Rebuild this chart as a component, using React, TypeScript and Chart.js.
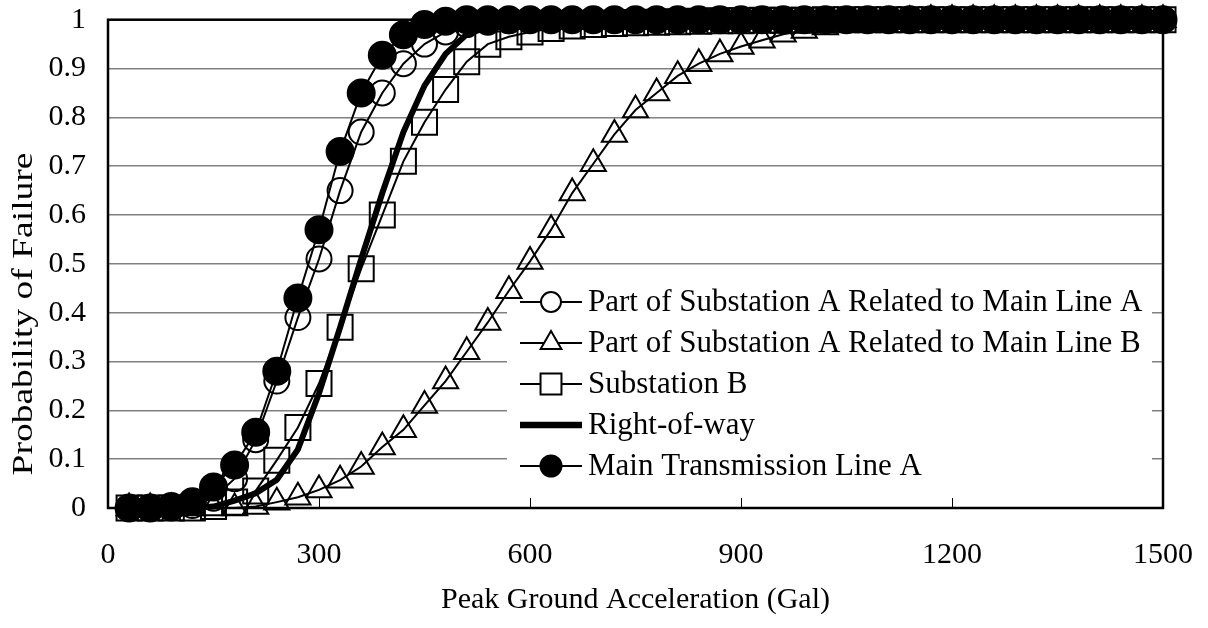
import React, { useEffect, useRef } from 'react';
import { Chart, registerables } from 'chart.js';

Chart.register(...registerables);

const PGA = [
  30, 60, 90, 120, 150, 180, 210, 240, 270, 300,
  330, 360, 390, 420, 450, 480, 510, 540, 570, 600,
  630, 660, 690, 720, 750, 780, 810, 840, 870, 900,
  930, 960, 990, 1020, 1050, 1080, 1110, 1140, 1170, 1200,
  1230, 1260, 1290, 1320, 1350, 1380, 1410, 1440, 1470, 1500,
];

const PART_A_LINE_A = [
  0, 0, 0, 0.005, 0.02, 0.06, 0.14, 0.26, 0.39, 0.51,
  0.65, 0.77, 0.85, 0.91, 0.95, 0.975, 0.99, 0.995, 0.998, 1,
  1, 1, 1, 1, 1, 1, 1, 1, 1, 1,
  1, 1, 1, 1, 1, 1, 1, 1, 1, 1,
  1, 1, 1, 1, 1, 1, 1, 1, 1, 1,
];

const PART_A_LINE_B = [
  0, 0, 0, 0, 0, 0, 0.003, 0.012, 0.022, 0.037,
  0.057, 0.085, 0.125, 0.16, 0.21, 0.26, 0.32, 0.38, 0.445, 0.505,
  0.57, 0.645, 0.705, 0.765, 0.815, 0.85, 0.885, 0.91, 0.93, 0.945,
  0.958, 0.97, 0.978, 0.985, 0.99, 0.993, 0.996, 0.998, 1, 1,
  1, 1, 1, 1, 1, 1, 1, 1, 1, 1,
];

const SUBSTATION_B = [
  0, 0, 0, 0, 0.003, 0.012, 0.035, 0.098, 0.165, 0.255,
  0.37, 0.49, 0.6, 0.71, 0.79, 0.857, 0.914, 0.95, 0.965, 0.975,
  0.982, 0.987, 0.99, 0.992, 0.994, 0.995, 0.996, 0.997, 0.998, 0.998,
  0.999, 0.999, 0.999, 1, 1, 1, 1, 1, 1, 1,
  1, 1, 1, 1, 1, 1, 1, 1, 1, 1,
];

const RIGHT_OF_WAY = [
  0, 0, 0, 0, 0.003, 0.015, 0.03, 0.058, 0.12, 0.235,
  0.37, 0.51, 0.645, 0.77, 0.865, 0.93, 0.97, 0.985, 0.993, 0.997,
  1, 1, 1, 1, 1, 1, 1, 1, 1, 1,
  1, 1, 1, 1, 1, 1, 1, 1, 1, 1,
  1, 1, 1, 1, 1, 1, 1, 1, 1, 1,
];

const MAIN_LINE_A = [
  0, 0, 0.003, 0.013, 0.043, 0.088, 0.155, 0.28, 0.43, 0.57,
  0.73, 0.85, 0.927, 0.969, 0.99, 0.997, 1, 1, 1, 1,
  1, 1, 1, 1, 1, 1, 1, 1, 1, 1,
  1, 1, 1, 1, 1, 1, 1, 1, 1, 1,
  1, 1, 1, 1, 1, 1, 1, 1, 1, 1,
];

const SERIES_NAMES = [
  'Part of Substation A Related to Main Line A',
  'Part of Substation A Related to Main Line B',
  'Substation B',
  'Right-of-way',
  'Main Transmission Line A',
];

const X_TICKS = [0, 300, 600, 900, 1200, 1500];
const Y_TICKS = [0, 0.1, 0.2, 0.3, 0.4, 0.5, 0.6, 0.7, 0.8, 0.9, 1];
const Y_TICK_LABELS = ['0', '0.1', '0.2', '0.3', '0.4', '0.5', '0.6', '0.7', '0.8', '0.9', '1'];

const X_TITLE = 'Peak Ground Acceleration (Gal)';
const Y_TITLE = 'Probability of Failure';

const FONT_FAMILY = '"Liberation Serif", "Times New Roman", serif';

function toXY(ys: number[]) {
  return ys.map((y, i) => ({ x: PGA[i], y }));
}

type LegendSpec = { style: string; fill: string; width: number; r: number };

const LEGEND_SPECS: LegendSpec[] = [
  { style: 'circle', fill: '#ffffff', width: 2, r: 10 },
  { style: 'triangle', fill: '#ffffff', width: 2, r: 12 },
  { style: 'rect', fill: '#ffffff', width: 2, r: 14.8 },
  { style: 'none', fill: '#000000', width: 6.5, r: 0 },
  { style: 'circle', fill: '#000000', width: 2, r: 10.5 },
];

function drawMarker(ctx: CanvasRenderingContext2D, style: string, x: number, y: number, r: number, fill: string) {
  ctx.beginPath();
  if (style === 'circle') {
    ctx.arc(x, y, r, 0, Math.PI * 2);
  } else if (style === 'rect') {
    const s = Math.SQRT1_2 * r;
    ctx.rect(x - s, y - s, 2 * s, 2 * s);
  } else if (style === 'triangle') {
    ctx.moveTo(x, y - r);
    ctx.lineTo(x + 0.866 * r, y + 0.5 * r);
    ctx.lineTo(x - 0.866 * r, y + 0.5 * r);
    ctx.closePath();
  } else {
    return;
  }
  ctx.fillStyle = fill;
  ctx.fill();
  ctx.lineWidth = 2;
  ctx.strokeStyle = '#000';
  ctx.stroke();
}

const framePlugin = {
  id: 'frame',
  beforeDatasetsDraw(chart: any) {
    const { ctx, chartArea } = chart;
    const { left, right, top, bottom } = chartArea;
    ctx.save();
    // legend background hides grid lines
    ctx.fillStyle = '#ffffff';
    ctx.fillRect(507, 282, 645, 215);
    // inside tick marks on x axis
    const xs = chart.scales.x;
    ctx.strokeStyle = '#000';
    ctx.lineWidth = 1;
    X_TICKS.forEach((v) => {
      const px = Math.round(xs.getPixelForValue(v)) + 0.5;
      ctx.beginPath();
      ctx.moveTo(px, bottom);
      ctx.lineTo(px, bottom - 10);
      ctx.stroke();
    });
    // plot border
    ctx.lineWidth = 2.5;
    ctx.strokeStyle = '#000';
    ctx.strokeRect(left, top, right - left, bottom - top);
    ctx.restore();
  },
  afterDatasetsDraw(chart: any) {
    const { ctx } = chart;
    ctx.save();
    const x0 = 520;
    const x1 = 582;
    const xm = 551;
    const rowY = [302, 343, 384, 425, 466];
    ctx.font = `31px ${FONT_FAMILY}`;
    SERIES_NAMES.forEach((name, i) => {
      const spec = LEGEND_SPECS[i];
      const y = rowY[i];
      ctx.beginPath();
      ctx.strokeStyle = '#000';
      ctx.lineWidth = spec.width;
      ctx.lineCap = 'butt';
      ctx.moveTo(x0, y);
      ctx.lineTo(x1, y);
      ctx.stroke();
      drawMarker(ctx, spec.style, xm, y, spec.r, spec.fill);
      ctx.fillStyle = '#000';
      ctx.textAlign = 'left';
      ctx.textBaseline = 'middle';
      ctx.fillText(name, 588, y + 1);
    });
    // y axis title (rotated)
    ctx.translate(24, 314);
    ctx.rotate(-Math.PI / 2);
    ctx.scale(1.25, 1);
    ctx.font = `30px ${FONT_FAMILY}`;
    ctx.textAlign = 'center';
    ctx.textBaseline = 'middle';
    ctx.fillStyle = '#000';
    ctx.fillText(Y_TITLE, 0, 0);
    ctx.restore();
  },
};

export default function App() {
  const canvasRef = useRef<HTMLCanvasElement | null>(null);

  useEffect(() => {
    const canvas = canvasRef.current;
    if (!canvas) return;
    const font = { family: FONT_FAMILY, size: 30 };
    const common = {
      borderColor: '#000',
      pointBorderColor: '#000',
      pointBorderWidth: 2,
      pointHoverRadius: 0,
      tension: 0,
      clip: false as any,
    };
    const chart = new Chart(canvas, {
      type: 'line',
      data: {
        datasets: [
          {
            ...common,
            label: SERIES_NAMES[0],
            data: toXY(PART_A_LINE_A),
            borderWidth: 2,
            pointStyle: 'circle',
            pointRadius: 12.5,
            pointBackgroundColor: 'rgba(255,255,255,0)',
            order: 4,
          },
          {
            ...common,
            label: SERIES_NAMES[1],
            data: toXY(PART_A_LINE_B),
            borderWidth: 2,
            pointStyle: 'triangle',
            pointRadius: 14.5,
            pointBackgroundColor: 'rgba(255,255,255,0)',
            order: 3,
          },
          {
            ...common,
            label: SERIES_NAMES[2],
            data: toXY(SUBSTATION_B),
            borderWidth: 2,
            pointStyle: 'rect',
            pointRadius: 17.7,
            pointBackgroundColor: 'rgba(255,255,255,0)',
            order: 2,
          },
          {
            ...common,
            label: SERIES_NAMES[3],
            data: toXY(RIGHT_OF_WAY),
            borderWidth: 6,
            pointRadius: 0,
            order: 1,
          },
          {
            ...common,
            label: SERIES_NAMES[4],
            data: toXY(MAIN_LINE_A),
            borderWidth: 2,
            pointStyle: 'circle',
            pointRadius: 13.5,
            pointBackgroundColor: '#000',
            order: 0,
          },
        ],
      },
      options: {
        animation: false,
        responsive: false,
        maintainAspectRatio: false,
        events: [],
        layout: { padding: { top: 17, right: 45, left: 0, bottom: 0 } },
        plugins: {
          legend: { display: false },
          tooltip: { enabled: false },
        },
        scales: {
          x: {
            type: 'linear',
            min: 0,
            max: 1500,
            afterBuildTicks: (scale: any) => {
              scale.ticks = X_TICKS.map((v) => ({ value: v }));
            },
            afterFit: (scale: any) => {
              scale.height = 120;
              scale.paddingLeft = 0;
              scale.paddingRight = 0;
            },
            ticks: {
              font,
              color: '#000',
              padding: 29,
              maxRotation: 0,
              autoSkip: false,
              callback: (v: any) => String(v),
            },
            grid: { display: false, drawTicks: false },
            border: { display: false },
            title: {
              display: true,
              text: X_TITLE,
              font,
              color: '#000',
              padding: { top: 0, bottom: 10 },
            },
          },
          y: {
            type: 'linear',
            min: 0,
            max: 1,
            afterBuildTicks: (scale: any) => {
              scale.ticks = Y_TICKS.map((v) => ({ value: v }));
            },
            afterFit: (scale: any) => {
              scale.width = 108;
              scale.paddingTop = 0;
              scale.paddingBottom = 0;
            },
            ticks: {
              font,
              color: '#000',
              padding: 22,
              autoSkip: false,
              callback: (_v: any, i: number) => Y_TICK_LABELS[i],
            },
            grid: { color: '#808080', lineWidth: 1.5, drawTicks: false },
            border: { display: false },
            title: { display: false },
          },
        },
      },
      plugins: [framePlugin],
    } as any);
    return () => chart.destroy();
  }, []);

  return (
    <div style={{ position: 'absolute', left: 0, top: 0, width: 1208, height: 628, background: '#fff' }}>
      <canvas ref={canvasRef} width={1208} height={628} style={{ display: 'block', width: 1208, height: 628 }} />
    </div>
  );
}
